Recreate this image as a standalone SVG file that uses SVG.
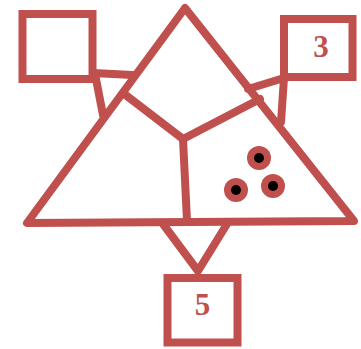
<svg xmlns="http://www.w3.org/2000/svg" width="361" height="349" viewBox="0 0 361 349">
<style>
.s{fill:none;stroke:#C0504D;stroke-width:8;stroke-linejoin:round;stroke-linecap:round}
.b{fill:#FFFFFF;stroke:#C0504D;stroke-width:8}
.t{font-family:"Liberation Serif","Times New Roman",serif;font-weight:bold;font-size:31px;fill:#C0504D;text-anchor:middle}
.dot{fill:#C0504D}
.core{fill:#000000}
</style>
<rect width="361" height="349" fill="#FFFFFF"/>
<g id="connectors">
<polyline class="s" points="133,75 93,73 96,79 103,115"/>
<polyline class="s" points="248,89 284,78 281,122"/>
<polyline class="s" points="163,224 198,271 227,224"/>
</g>
<g id="triangle">
<polygon class="s" points="185,8 27,223 354,221"/>
<polyline class="s" points="123,93 183,139 260,99"/>
<line class="s" x1="183" y1="139" x2="187" y2="221"/>
</g>
<g id="dots">
<circle class="dot" cx="259" cy="158" r="12"/><circle class="core" cx="259" cy="158" r="5"/>
<circle class="dot" cx="273" cy="186" r="12"/><circle class="core" cx="273" cy="186" r="5"/>
<circle class="dot" cx="236" cy="190" r="12"/><circle class="core" cx="236" cy="190" r="5"/>
</g>
<g id="square-top-left">
<rect class="b" x="22.5" y="14" width="70" height="65"/>
</g>
<g id="square-top-right">
<rect class="b" x="284" y="19" width="68.5" height="58"/>
<text class="t" x="321" y="57">3</text>
</g>
<g id="square-bottom">
<rect class="b" x="167.5" y="278" width="70" height="64.5"/>
<text class="t" x="202.5" y="315">5</text>
</g>
</svg>
